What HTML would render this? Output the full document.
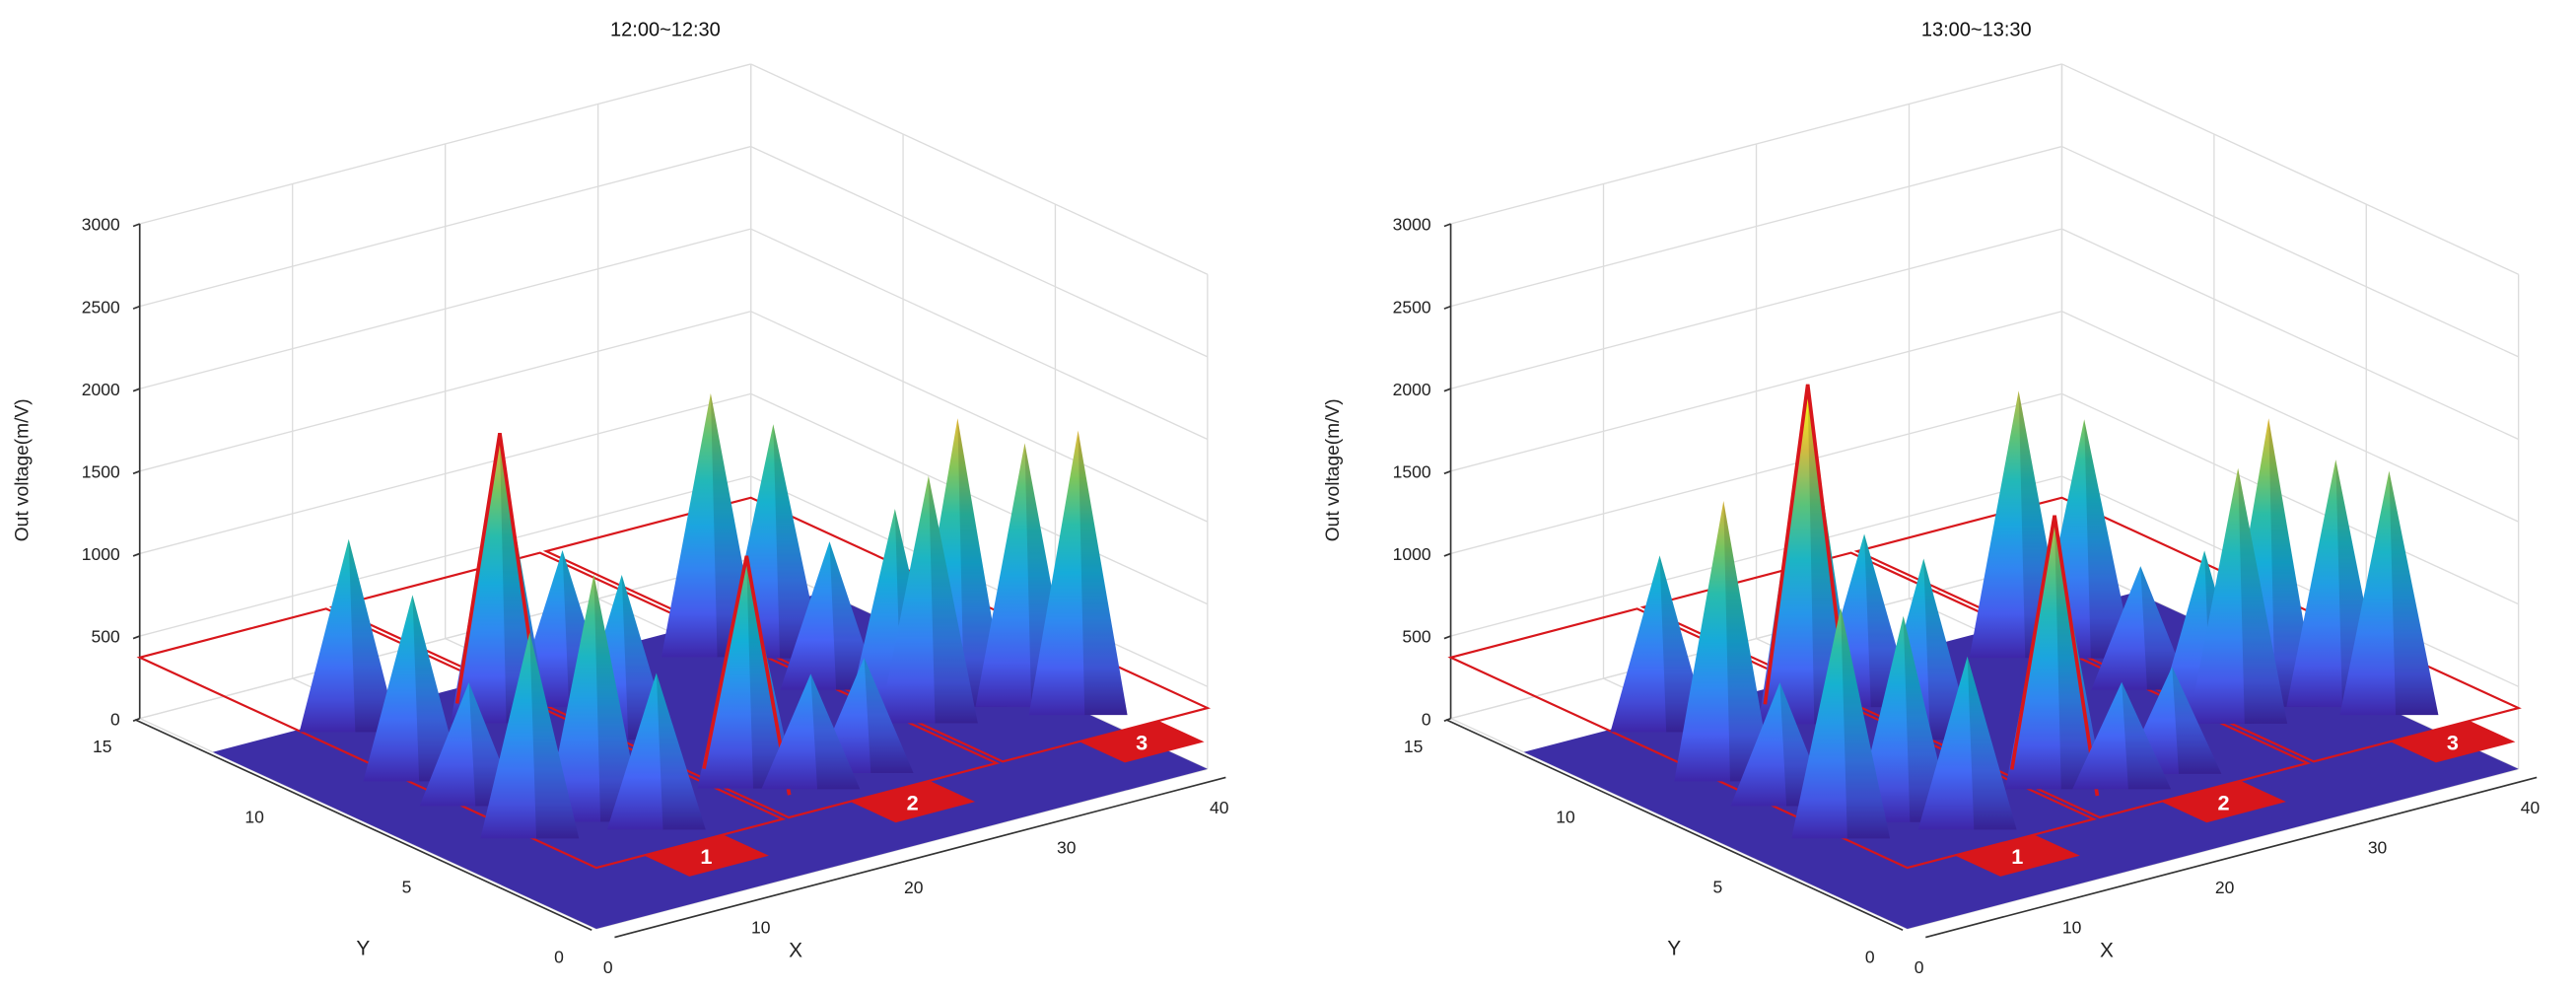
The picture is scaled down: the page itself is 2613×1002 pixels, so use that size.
<!DOCTYPE html>
<html><head><meta charset="utf-8"><title>Out voltage 3D surfaces</title>
<style>
html,body{margin:0;padding:0;background:#fff;}
svg{display:block;font-family:"Liberation Sans",Arial,sans-serif;}
</style></head>
<body>
<svg id="chart" width="2613" height="1002" viewBox="0 0 1568 601" preserveAspectRatio="none" xmlns="http://www.w3.org/2000/svg">
<defs id="defs"></defs>
</svg>
<script>
// ---- data ----
const panelTitles = ["12:00~12:30", "13:00~13:30"];
const zTicks = [0, 500, 1000, 1500, 2000, 2500, 3000];
const xTicks = [0, 10, 20, 30, 40];
const yTicks = [0, 5, 10, 15];
const zoneNames = ["1", "2", "3"];
const zoneXStart = [0, 12.6, 26.6];
const zoneXEnd = [12.2, 26.2, 40];
const zoneBadgeX = [5.7, 19.2, 34.2];
const zoneLevel = 370;

const leftPeakX = [7.5, 5.7, 14.6, 5.8, 18.7, 18.2, 5.4, 9.6, 11.5, 19.0, 29.4, 31.9, 21.6, 25.3, 31.1, 32.5, 35.2, 38.0, 39.5, 31.4];
const leftPeakY = [11.9, 8.9, 10.5, 7.1, 10.5, 8.3, 4.9, 4.9, 3.8, 4.6, 11.0, 10.2, 3.8, 3.9, 5.8, 5.4, 5.8, 5.0, 4.0, 8.1];
const leftPeakZ = [1170, 1130, 1700, 750, 950, 1000, 1250, 1500, 950, 1350, 1600, 1420, 700, 700, 1300, 1500, 1750, 1600, 1725, 900];
const leftFlagged = [2, 9];

const rightPeakX = [7.5, 5.7, 14.4, 5.8, 18.3, 17.8, 5.4, 9.5, 11.5, 18.8, 29.2, 31.9, 21.6, 25.1, 31.0, 32.4, 35.2, 38.0, 39.5, 31.4];
const rightPeakY = [11.9, 8.9, 10.5, 7.1, 10.6, 8.4, 4.9, 4.9, 3.8, 4.6, 11.0, 10.2, 3.8, 3.9, 5.8, 5.4, 5.8, 5.0, 4.0, 8.1];
const rightPeakZ = [1070, 1700, 2000, 750, 1050, 1100, 1400, 1250, 1050, 1600, 1620, 1450, 650, 650, 1050, 1550, 1750, 1500, 1480, 750];
const rightFlagged = [2, 9];

// ---- rendering ----
const NS = "http://www.w3.org/2000/svg";
const svg = document.getElementById("chart");
const defs = document.getElementById("defs");
let gid = 0;

function mk(tag, attrs, parent) {
  const e = document.createElementNS(NS, tag);
  for (const k in attrs) e.setAttribute(k, attrs[k]);
  (parent || svg).appendChild(e);
  return e;
}

const parulaStops = [[0, [62, 38, 168]], [0.15, [70, 98, 245]], [0.3, [44, 142, 240]], [0.45, [19, 176, 214]], [0.6, [46, 191, 160]], [0.72, [127, 198, 90]], [0.85, [224, 185, 60]], [0.93, [253, 197, 40]], [1, [249, 251, 21]]];
function parula(t) {
  t = Math.max(0, Math.min(1, t));
  for (let i = 1; i < parulaStops.length; i++) {
    if (t <= parulaStops[i][0]) {
      const a = parulaStops[i - 1], b = parulaStops[i];
      const f = (t - a[0]) / (b[0] - a[0]);
      const c = a[1].map((v, k) => Math.round(v + (b[1][k] - v) * f));
      return "rgb(" + c.join(",") + ")";
    }
  }
  return "rgb(249,251,21)";
}

function drawPanel(ox, title, PX, PY, PZ, flagged) {
  const g = mk("g", {});
  
  
  const proj = (x, y, z) => [ox + 363 + 9.3 * x - 18.53 * y, 565 - 2.43 * x - 8.53 * y - 0.1003 * z];
  const pts = arr => arr.map(p => proj(p[0], p[1], p[2]).map(v => v.toFixed(2)).join(",")).join(" ");
  const line = (a, b, attrs, name) => {
    const p = proj(...a), q = proj(...b);
    const l = mk("line", Object.assign({x1: p[0], y1: p[1], x2: q[0], y2: q[1]}, attrs), g);
    
    
    return l;
  };
  const grid = {stroke: "#dcdcdc", "stroke-width": 0.8};
  xTicks.forEach(x => line([x, 15, 0], [x, 15, 3000], grid, "grid-line"));
  zTicks.forEach(z => line([0, 15, z], [40, 15, z], grid, "grid-line"));
  yTicks.forEach(y => line([40, y, 0], [40, y, 3000], grid, "grid-line"));
  zTicks.forEach(z => line([40, 0, z], [40, 15, z], grid, "grid-line"));
  xTicks.forEach(x => line([x, 0, 0], [x, 15, 0], grid, "grid-line"));
  yTicks.forEach(y => line([0, y, 0], [40, y, 0], grid, "grid-line"));

  const t = mk("text", {x: ox + 405, y: 22, "font-size": 12, "text-anchor": "middle", fill: "#111"}, g);
  t.textContent = title;
  
  

  line([0, 15, 0], [0, 15, 3000], {stroke: "#333", "stroke-width": 1}, "z-axis");
  zTicks.forEach(z => {
    const p = proj(0, 15, z);
    const tk = mk("line", {x1: p[0] - 4, y1: p[1] + 1.5, x2: p[0], y2: p[1], stroke: "#333", "stroke-width": 1}, g);
    
    
    const lb = mk("text", {x: p[0] - 12, y: p[1] + 4, "font-size": 10.5, "text-anchor": "end", fill: "#222"}, g);
    lb.textContent = z;
    
    
  });
  const zt = mk("text", {x: 0, y: 0, "font-size": 11.5, "text-anchor": "middle", fill: "#222", transform: "translate(" + (ox + 17) + ",286) rotate(-90)"}, g);
  zt.textContent = "Out voltage(m/V)";
  
  

  const floor = mk("polygon", {points: pts([[0, 0, 0], [40, 0, 0], [40, 12.6, 0], [0, 12.6, 0]]), fill: "#3d2ea6"}, g);
  
  

  zoneNames.forEach((n, i) => {
    const r = mk("polygon", {points: pts([[zoneXStart[i], 0, zoneLevel], [zoneXEnd[i], 0, zoneLevel], [zoneXEnd[i], 15, zoneLevel], [zoneXStart[i], 15, zoneLevel]]), fill: "none", stroke: "#d8161b", "stroke-width": 1.3}, g);
    
    
  });

  const order = PX.map((_, i) => i).sort((a, b) => proj(PX[a], PY[a], 0)[1] - proj(PX[b], PY[b], 0)[1]);
  const halfW = 30;
  order.forEach(i => {
    const b = proj(PX[i], PY[i], 0), a = proj(PX[i], PY[i], PZ[i]);
    const id = "cg" + (gid++);
    const lg = mk("linearGradient", {id: id, gradientUnits: "userSpaceOnUse", x1: 0, y1: b[1], x2: 0, y2: a[1]}, defs);
    for (let s = 0; s <= 6; s++) {
      const f = s / 6;
      mk("stop", {offset: f, "stop-color": parula(PZ[i] * f / 2000)}, lg);
    }
    const cg = mk("g", {}, g);
    
    
    mk("polygon", {points: [[b[0] - halfW, b[1]], [a[0], a[1]], [b[0] + halfW, b[1]]].map(p => p.join(",")).join(" "), fill: "url(#" + id + ")"}, cg);
    mk("polygon", {points: [[b[0] + 4, b[1]], [a[0], a[1]], [b[0] + halfW, b[1]]].map(p => p.join(",")).join(" "), fill: "#000", opacity: 0.12}, cg);
    if (flagged.indexOf(i) >= 0) {
      const o = mk("polyline", {points: [[b[0] - halfW + 4, b[1] - 12], [a[0], a[1] - 6], [b[0] + halfW - 4, b[1] + 4]].map(p => p.join(",")).join(" "), fill: "none", stroke: "#d8161b", "stroke-width": 2.2}, cg);
      
      
    }
  });

  zoneNames.forEach((n, i) => {
    const xc = zoneBadgeX[i];
    const lab = mk("polygon", {points: pts([[xc - 2.6, 0, zoneLevel], [xc + 2.6, 0, zoneLevel], [xc + 2.6, -1.5, zoneLevel], [xc - 2.6, -1.5, zoneLevel]]), fill: "#d8161b"}, g);
    
    
    const c = proj(xc, -0.75, zoneLevel);
    const tx = mk("text", {x: c[0], y: c[1] + 5, "font-size": 13, "font-weight": "bold", "text-anchor": "middle", fill: "#fff"}, g);
    tx.textContent = n;
    
    
  });

  line([-0.3, 15, 0], [-0.3, 0, 0], {stroke: "#333", "stroke-width": 1}, "y-axis");
  yTicks.forEach(y => {
    const p = proj(-0.3, y, 0);
    const lb = mk("text", {x: p[0] - 20, y: p[1] + 20, "font-size": 10.5, "text-anchor": "middle", fill: "#222"}, g);
    lb.textContent = y;
    
    
  });
  const yt = proj(0, 7.5, 0);
  const ytl = mk("text", {x: yt[0] - 3, y: yt[1] + 80, "font-size": 12.5, "text-anchor": "middle", fill: "#222"}, g);
  ytl.textContent = "Y";
  
  

  line([0, -0.6, 0], [40, -0.6, 0], {stroke: "#333", "stroke-width": 1}, "x-axis");
  xTicks.forEach(x => {
    const p = proj(x, -0.6, 0);
    const lb = mk("text", {x: p[0] - 4, y: p[1] + 22, "font-size": 10.5, "text-anchor": "middle", fill: "#222"}, g);
    lb.textContent = x;
    
    
  });
  const xt = proj(14, -0.6, 0);
  const xtl = mk("text", {x: xt[0] - 20, y: xt[1] + 46, "font-size": 12.5, "text-anchor": "middle", fill: "#222"}, g);
  xtl.textContent = "X";
  
  
}

drawPanel(0, panelTitles[0], leftPeakX, leftPeakY, leftPeakZ, leftFlagged);
drawPanel(798, panelTitles[1], rightPeakX, rightPeakY, rightPeakZ, rightFlagged);
</script>
</body></html>
